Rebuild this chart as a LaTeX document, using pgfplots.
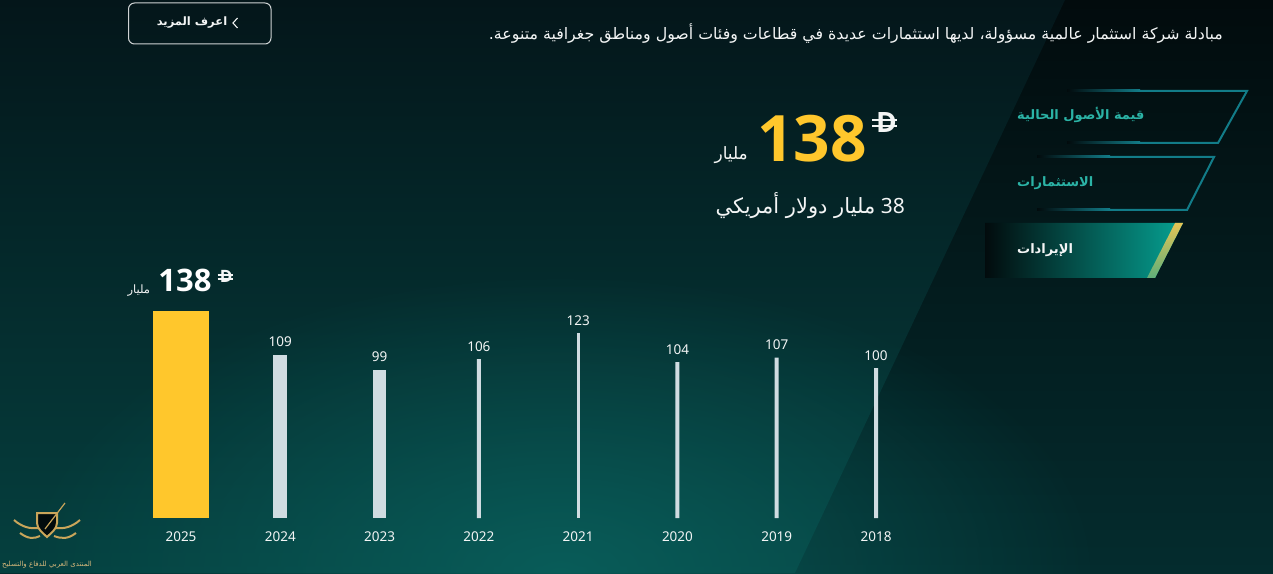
\documentclass[border=0pt]{standalone}
\usepackage{pgfplots}
\pgfplotsset{compat=1.18}
\usepackage{fontspec}
\usetikzlibrary{fadings}
\TeXXeTstate=1
\setmainfont{Noto Sans}
\newfontfamily\numfont{Open Sans}
\newfontfamily\arabicfont[Script=Arabic]{DejaVu Sans}
\definecolor{bgA}{HTML}{020B0D}
\definecolor{bgB}{HTML}{042C2E}
\definecolor{bgLt}{HTML}{04161A}
\definecolor{bgLb}{HTML}{05403F}
\definecolor{glowc}{HTML}{0A6662}
\definecolor{barYellow}{HTML}{FFC72C}
\definecolor{barGrey}{HTML}{D0DCE1}
\definecolor{txt}{HTML}{F3F5F5}
\definecolor{tabLine}{HTML}{127C88}
\definecolor{tabText}{HTML}{2BB3A6}
\definecolor{tabFill}{HTML}{06A192}
\definecolor{stripe}{HTML}{E5C455}
\definecolor{gold}{HTML}{C9A55A}
\definecolor{btn}{HTML}{CFD3D4}
\tikzfading[name=glowfade, inner color=transparent!25, outer color=transparent!100]
\newcommand\fs[1]{\fontsize{#1}{#1}\selectfont}
\newcommand\dirham{\leavevmode\makebox[0pt][l]{\kern-0.14em\raisebox{0.2em}{\rule{0.88em}{0.07em}}}\makebox[0pt][l]{\kern-0.14em\raisebox{0.43em}{\rule{0.88em}{0.07em}}}D}
\begin{document}
\begin{tikzpicture}[x=1pt,y=1pt]
\useasboundingbox (0,0) rectangle (1273,573);
\clip (0,0) rectangle (1273,573);
% background
\shade[top color=bgA, bottom color=bgB] (0,0) rectangle (1273,573);
\shade[top color=bgLt, bottom color=bgLb] (0,0)--(0,573)--(1065,573)--(795,0)--cycle;
\fill[glowc, path fading=glowfade] (560,0) ellipse [x radius=540, y radius=300];
% button
\draw[btn, line width=1, rounded corners=6] (128.5,570) rectangle (271,529);
\node[anchor=center, text=txt, inner sep=0] at (192,550) {\arabicfont\bfseries\fs{11.5}\beginR اعرف المزيد\endR};
\draw[txt, line width=1.1] (237.5,555)--(233,550)--(237.5,545);
% paragraph
\node[anchor=base east, text=txt, inner sep=0] at (1223,533) {\arabicfont\fs{15.8}\beginR مبادلة شركة استثمار عالمية مسؤولة، لديها استثمارات عديدة في قطاعات وفئات أصول ومناطق جغرافية متنوعة.\endR};
% headline
\node[anchor=base west, text=barYellow, inner sep=0] at (757,411) {\numfont\bfseries\fs{64}138};
\node[anchor=base east, text=txt, inner sep=0] at (748,413) {\arabicfont\fs{17}\beginR مليار\endR};
\node[anchor=base west, text=txt, inner sep=0] at (876,440) {\numfont\bfseries\fs{28}\dirham};
\node[anchor=base east, text=txt, inner sep=0] at (905,359) {{\arabicfont\fs{21}\beginR مليار دولار أمريكي\endR}\fs{21}\ 38};
% tabs
\shade[left color=bgA, right color=tabLine] (1067,481) rectangle (1140,483);
\draw[tabLine, line width=2] (1140,482)--(1247,482)--(1218,430)--(1140,430);
\shade[left color=bgA, right color=tabLine] (1067,429) rectangle (1140,431);
\shade[left color=bgA, right color=tabLine] (1037,415) rectangle (1110,417);
\draw[tabLine, line width=2] (1110,416)--(1214,416)--(1187,363)--(1110,363);
\shade[left color=bgA, right color=tabLine] (1037,362) rectangle (1110,364);
\shade[left color=bgA, right color=tabFill] (985,350)--(1183,350)--(1155,295)--(985,295)--cycle;
\shade[top color=stripe, bottom color=stripe!40!tabFill] (1175,350)--(1183,350)--(1155,295)--(1147,295)--cycle;
\node[anchor=west, text=tabText, inner sep=0] at (1017,458) {\arabicfont\bfseries\fs{13}\beginR قيمة الأصول الحالية\endR};
\node[anchor=west, text=tabText, inner sep=0] at (1017,390) {\arabicfont\bfseries\fs{13}\beginR الاستثمارات\endR};
\node[anchor=west, text=txt, inner sep=0] at (1017,323) {\arabicfont\bfseries\fs{13}\beginR الإيرادات\endR};
% watermark
\draw[gold, line width=2, fill=bgA] (37,60)--(57,60)--(57,50) .. controls (57,44) and (51,40) .. (47,36) .. controls (43,40) and (37,44) .. (37,50)--cycle;
\draw[gold, line width=1.2] (45,44)--(65,70);
\draw[gold, line width=2] (14,53) .. controls (22,46) and (30,44) .. (38,45);
\draw[gold, line width=2] (80,53) .. controls (72,46) and (64,44) .. (56,45);
\draw[gold, line width=2] (20,40) .. controls (28,34) and (34,34) .. (40,37);
\draw[gold, line width=2] (76,40) .. controls (68,34) and (62,34) .. (54,37);
\node[text=gold!80!white, inner sep=0, anchor=center] at (47,8) {\arabicfont\fs{7}\beginR المنتدى العربي للدفاع والتسليح\endR};
% chart
\begin{axis}[at={(131.36pt,55pt)}, anchor=south west, scale only axis,
  width=794.3pt, height=225pt, xmin=-0.5, xmax=7.5, ymin=0, ymax=150,
  axis line style={draw=none}, tick style={draw=none}, ytick=\empty,
  /pgf/number format/assume math mode=true,
  xtick={0,...,7}, xticklabels={2025,2024,2023,2022,2021,2020,2019,2018},
  xticklabel style={font=\fs{13.5}, text=txt, anchor=base, yshift=-23pt, inner sep=0pt},
  clip=false,
  every node near coord/.append style={font=\fs{13.5}, text=txt, anchor=base, inner sep=0pt, yshift=8pt}]
\addplot[ybar, bar width=56pt, bar shift=0pt, fill=barYellow, draw=none] coordinates {(0,138)};
\addplot[ybar, bar width=14pt, bar shift=0pt, fill=barGrey, draw=none, nodes near coords] coordinates {(1,109)};
\addplot[ybar, bar width=13pt, bar shift=0pt, fill=barGrey, draw=none, nodes near coords] coordinates {(2,99)};
\addplot[ybar, bar width=4pt, bar shift=0pt, fill=barGrey, draw=none, nodes near coords] coordinates {(3,106) (5,104) (6,107) (7,100)};
\addplot[ybar, bar width=3pt, bar shift=0pt, fill=barGrey, draw=none, nodes near coords] coordinates {(4,123)};
\node[anchor=base, text=white, inner sep=0] (big) at (axis cs:0,138) [xshift=4pt, yshift=19pt] {\numfont\bfseries\fs{31}138};
\node[anchor=base east, text=txt, inner sep=0] at ([xshift=-8pt, yshift=-2pt]big.base west) {\arabicfont\fs{11.5}\beginR مليار\endR};
\node[anchor=base west, text=txt, inner sep=0] at ([xshift=8pt, yshift=9pt]big.base east) {\numfont\bfseries\fs{17}\dirham};
\end{axis}
\end{tikzpicture}
\end{document}
